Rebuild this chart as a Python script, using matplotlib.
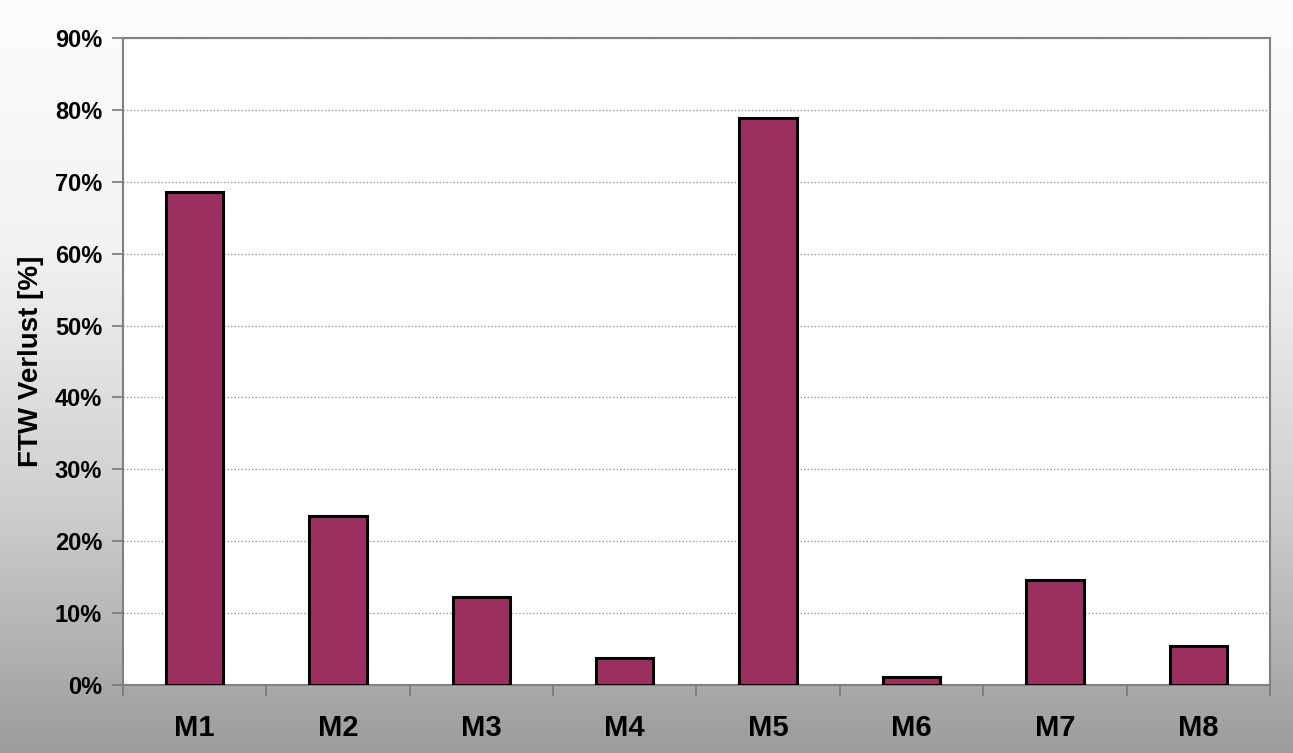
import numpy as np
import matplotlib
matplotlib.use('Agg')
import matplotlib.pyplot as plt
from matplotlib.colors import LinearSegmentedColormap
from matplotlib.ticker import FixedLocator, PercentFormatter

############## Data ####################
categories = ['M1', 'M2', 'M3', 'M4', 'M5', 'M6', 'M7', 'M8']
verlust = [68.6, 23.5, 12.2, 3.7, 78.9, 1.1, 14.6, 5.4]  # %
yticks = [0, 10, 20, 30, 40, 50, 60, 70, 80, 90]

plt.rcParams['font.family'] = ['Liberation Sans', 'DejaVu Sans']
plt.rcParams['font.weight'] = 'bold'

fig = plt.figure(figsize=(12.93, 7.53), dpi=100)

# gradient background behind everything
bg = fig.add_axes([0, 0, 1, 1], zorder=-10)
cmap = LinearSegmentedColormap.from_list('bg', ['#fefdfb', '#f2f2f2', '#cfcfcf', '#9c9c9c'])
grad = np.linspace(0, 1, 256).reshape(-1, 1)
bg.imshow(grad, aspect='auto', cmap=cmap, extent=[0, 1, 0, 1])
bg.axis('off')

ax = fig.add_axes([0.0951, 0.0903, 0.8871, 0.8592])
ax.set_facecolor('white')
x = np.arange(len(categories))
ax.bar(x, verlust, width=0.40, color='#9b3060', edgecolor='black', linewidth=2.2, zorder=3)

ax.set_xlim(-0.5, len(categories) - 0.5)
ax.set_ylim(0, 90)
ax.set_yticks(yticks)
ax.yaxis.set_major_formatter(PercentFormatter(decimals=0))
ax.set_xticks(x)
ax.set_xticklabels(categories)
ax.xaxis.set_minor_locator(FixedLocator(np.arange(-0.5, len(categories), 1.0)))

ax.tick_params(axis='x', which='major', length=0, pad=21, labelsize=21)
ax.tick_params(axis='x', which='minor', length=8, width=1.2, color='#777777', direction='out')
ax.tick_params(axis='y', length=8, width=1.2, color='#777777', labelsize=17, pad=7)

ax.grid(axis='y', color='#999999', linestyle=(0, (1, 1.5)), linewidth=1.0, zorder=0)

for side in ['left', 'bottom', 'top', 'right']:
    ax.spines[side].set_color('#808080')
    ax.spines[side].set_linewidth(1.5)

ax.set_ylabel('FTW Verlust [%]', fontsize=20, fontweight='bold', labelpad=8)

fig.savefig('out.png', dpi=100)
